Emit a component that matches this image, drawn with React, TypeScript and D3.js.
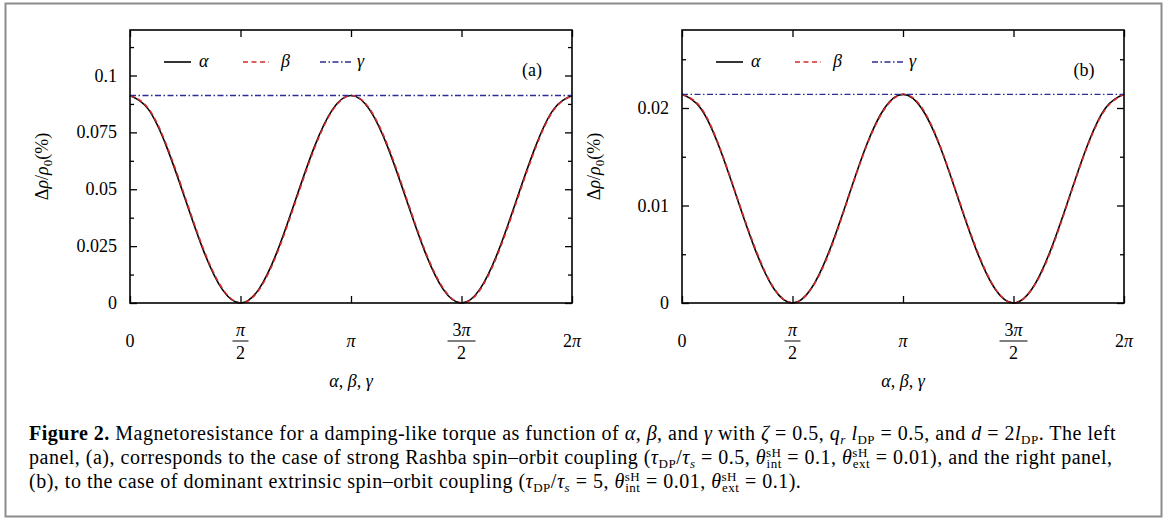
import React, { useEffect, useRef } from "react";
import * as d3 from "d3";

// angle samples in degrees (x axis runs 0..2pi)
const angles = [0, 15, 30, 45, 60, 75, 90, 105, 120, 135, 150, 165, 180, 195, 210, 225, 240, 255, 270, 285, 300, 315, 330, 345, 360];

// panel (a): strong Rashba
const alphaA = [0.0912, 0.0851, 0.0684, 0.0456, 0.0228, 0.0061, 0, 0.0061, 0.0228, 0.0456, 0.0684, 0.0851, 0.0912, 0.0851, 0.0684, 0.0456, 0.0228, 0.0061, 0, 0.0061, 0.0228, 0.0456, 0.0684, 0.0851, 0.0912];
const betaA = [0.0912, 0.0855, 0.0691, 0.0464, 0.0235, 0.0066, 0, 0.0057, 0.0221, 0.0448, 0.0677, 0.0847, 0.0912, 0.0855, 0.0691, 0.0464, 0.0235, 0.0066, 0, 0.0057, 0.0221, 0.0448, 0.0677, 0.0847, 0.0912];
const gammaA = [0.0912, 0.0912, 0.0912, 0.0912, 0.0912, 0.0912, 0.0912, 0.0912, 0.0912, 0.0912, 0.0912, 0.0912, 0.0912, 0.0912, 0.0912, 0.0912, 0.0912, 0.0912, 0.0912, 0.0912, 0.0912, 0.0912, 0.0912, 0.0912, 0.0912];

// panel (b): dominant extrinsic
const alphaB = [0.0214, 0.02, 0.0161, 0.0107, 0.00535, 0.00143, 0, 0.00143, 0.00535, 0.0107, 0.0161, 0.02, 0.0214, 0.02, 0.0161, 0.0107, 0.00535, 0.00143, 0, 0.00143, 0.00535, 0.0107, 0.0161, 0.02, 0.0214];
const betaB = [0.0214, 0.0201, 0.0162, 0.0108, 0.0055, 0.0015, 0, 0.0014, 0.0052, 0.0106, 0.016, 0.0199, 0.0214, 0.0201, 0.0162, 0.0108, 0.0055, 0.0015, 0, 0.0014, 0.0052, 0.0106, 0.016, 0.0199, 0.0214];
const gammaB = [0.0214, 0.0214, 0.0214, 0.0214, 0.0214, 0.0214, 0.0214, 0.0214, 0.0214, 0.0214, 0.0214, 0.0214, 0.0214, 0.0214, 0.0214, 0.0214, 0.0214, 0.0214, 0.0214, 0.0214, 0.0214, 0.0214, 0.0214, 0.0214, 0.0214];

const xTicks = [0, 90, 180, 270, 360];
const yTicksA = [0, 0.025, 0.05, 0.075, 0.1];
const yLabelsA = ["0", "0.025", "0.05", "0.075", "0.1"];
const yMinorA = [0.0125, 0.0375, 0.0625, 0.0875, 0.1125];
const yTicksB = [0, 0.01, 0.02];
const yLabelsB = ["0", "0.01", "0.02"];
const yMinorB = [0.005, 0.015, 0.025];

const FONT = "'Liberation Serif', 'DejaVu Serif', serif";
const RED = "#d42a2a";
const BLUE = "#2c2c94";

const plotW = 442;
const plotTop = 30;
const plotBottom = 303;

type PanelProps = {
  left: number;
  yMax: number;
  yTicks: number[];
  yLabels: string[];
  yMinor: number[];
  alpha: number[];
  beta: number[];
  gamma: number[];
  tag: string;
};

const Panel = ({ left, yMax, yTicks, yLabels, yMinor, alpha, beta, gamma, tag }: PanelProps) => {
  const ref = useRef<SVGGElement>(null);
  const x = d3.scaleLinear().domain([0, 360]).range([left, left + plotW]);
  const y = d3.scaleLinear().domain([0, yMax]).range([plotBottom, plotTop]);

  useEffect(() => {
    const g = d3.select(ref.current);
    g.selectAll("*").remove();
    const right = left + plotW;

    // inward ticks on all four sides, gnuplot style
    const put = (axis: any, tr: string) => {
      const a = g.append("g").attr("transform", tr).call(axis);
      a.select(".domain").remove();
      a.selectAll("text").remove();
      a.selectAll("line").attr("stroke", "#000").attr("stroke-width", 1.3);
    };
    put(d3.axisBottom(x).tickValues(xTicks).tickSize(-7).tickFormat(() => ""), `translate(0,${plotBottom})`);
    put(d3.axisTop(x).tickValues(xTicks).tickSize(-7).tickFormat(() => ""), `translate(0,${plotTop})`);
    put(d3.axisLeft(y).tickValues(yTicks).tickSize(-7).tickFormat(() => ""), `translate(${left},0)`);
    put(d3.axisRight(y).tickValues(yTicks).tickSize(-7).tickFormat(() => ""), `translate(${right},0)`);
    put(d3.axisLeft(y).tickValues(yMinor).tickSize(-4).tickFormat(() => ""), `translate(${left},0)`);
    put(d3.axisRight(y).tickValues(yMinor).tickSize(-4).tickFormat(() => ""), `translate(${right},0)`);
  }, [left, yMax]);

  const line = (vals: number[]) =>
    d3
      .line<number>()
      .x((_, i) => x(angles[i]))
      .y((d) => y(d))
      .curve(d3.curveNatural)(vals) || "";

  const cx = left + plotW / 2;
  const legY = 62;

  return (
    <g fontFamily={FONT}>
      <path d={line(alpha)} fill="none" stroke="#000" strokeWidth={1.6} />
      <path d={line(beta)} fill="none" stroke={RED} strokeWidth={1.6} strokeDasharray="5,3.5" />
      <path d={line(gamma)} fill="none" stroke={BLUE} strokeWidth={1.4} strokeDasharray="6,2.5,1.5,2.5" />

      <rect x={left} y={plotTop} width={plotW} height={plotBottom - plotTop} fill="none" stroke="#000" strokeWidth={1.6} />
      <g ref={ref} />

      {/* legend */}
      <line x1={left + 34} x2={left + 61} y1={legY} y2={legY} stroke="#000" strokeWidth={1.6} />
      <text x={left + 69} y={legY + 5} fontSize={18} fontStyle="italic">α</text>
      <line x1={left + 113} x2={left + 139} y1={legY} y2={legY} stroke={RED} strokeWidth={1.6} strokeDasharray="5,3.5" />
      <text x={left + 151} y={legY + 5} fontSize={18} fontStyle="italic">β</text>
      <line x1={left + 190} x2={left + 222} y1={legY} y2={legY} stroke={BLUE} strokeWidth={1.4} strokeDasharray="6,2.5,1.5,2.5" />
      <text x={left + 227} y={legY + 5} fontSize={18} fontStyle="italic">γ</text>
      <text x={left + plotW - 40} y={76} fontSize={18} textAnchor="middle">({tag})</text>

      {/* y tick labels */}
      {yTicks.map((t, i) => (
        <text key={t} x={left - 13} y={y(t) + 6} fontSize={18} textAnchor="end">{yLabels[i]}</text>
      ))}

      {/* x tick labels */}
      <text x={x(0)} y={347} fontSize={18} textAnchor="middle">0</text>
      <text x={x(180)} y={347} fontSize={18} textAnchor="middle" fontStyle="italic">π</text>
      <text x={x(360)} y={347} fontSize={18} textAnchor="middle">2<tspan fontStyle="italic">π</tspan></text>
      {[90, 270].map((t, i) => (
        <g key={t}>
          <text x={x(t)} y={336} fontSize={18} textAnchor="middle">{i === 1 ? "3" : ""}<tspan fontStyle="italic">π</tspan></text>
          <line x1={x(t) - (i ? 14 : 8)} x2={x(t) + (i ? 14 : 8)} y1={341} y2={341} stroke="#000" strokeWidth={1} />
          <text x={x(t)} y={359} fontSize={18} textAnchor="middle">2</text>
        </g>
      ))}

      {/* axis titles */}
      <text x={cx} y={387} fontSize={18} textAnchor="middle">
        <tspan fontStyle="italic">α</tspan>, <tspan fontStyle="italic">β</tspan>, <tspan fontStyle="italic">γ</tspan>
      </text>
      <text transform={`translate(${left - 82},${(plotTop + plotBottom) / 2}) rotate(-90)`} fontSize={18} textAnchor="middle">
        Δ<tspan fontStyle="italic">ρ</tspan>/<tspan fontStyle="italic">ρ</tspan>
        <tspan fontSize={13} dy={4}>0</tspan>
        <tspan dy={-4}>(%)</tspan>
      </text>
    </g>
  );
};

type Seg = { t: string; s?: "b" | "i"; pos?: "sub" | "sup" | "stack"; dx?: number };

const captionLines: Seg[][] = [
  [
    { t: "Figure 2.", s: "b" },
    { t: " Magnetoresistance for a damping-like torque as function of " },
    { t: "α", s: "i" }, { t: ", " }, { t: "β", s: "i" }, { t: ", and " }, { t: "γ", s: "i" },
    { t: " with " }, { t: "ζ", s: "i" }, { t: " = 0.5, " },
    { t: "q", s: "i" }, { t: "r", s: "i", pos: "sub" }, { t: " l", s: "i" }, { t: "DP", pos: "sub" },
    { t: " = 0.5, and " }, { t: "d", s: "i" }, { t: " = 2" }, { t: "l", s: "i" }, { t: "DP", pos: "sub" },
    { t: ". The left" },
  ],
  [
    { t: "panel, (a), corresponds to the case of strong Rashba spin–orbit coupling (" },
    { t: "τ", s: "i" }, { t: "DP", pos: "sub" }, { t: "/" }, { t: "τ", s: "i" }, { t: "s", s: "i", pos: "sub" },
    { t: " = 0.5, " },
    { t: "θ", s: "i" }, { t: "sH", pos: "sup" }, { t: "int", pos: "stack", dx: -15 }, { t: " = 0.1, " },
    { t: "θ", s: "i" }, { t: "sH", pos: "sup" }, { t: "ext", pos: "stack", dx: -15 }, { t: " = 0.01), and the right panel," },
  ],
  [
    { t: "(b), to the case of dominant extrinsic spin–orbit coupling (" },
    { t: "τ", s: "i" }, { t: "DP", pos: "sub" }, { t: "/" }, { t: "τ", s: "i" }, { t: "s", s: "i", pos: "sub" },
    { t: " = 5, " },
    { t: "θ", s: "i" }, { t: "sH", pos: "sup" }, { t: "int", pos: "stack", dx: -15 }, { t: " = 0.01, " },
    { t: "θ", s: "i" }, { t: "sH", pos: "sup" }, { t: "ext", pos: "stack", dx: -15 }, { t: " = 0.1)." },
  ],
];

const CaptionLine = ({ segs, x, y }: { segs: Seg[]; x: number; y: number }) => {
  let off = 0;
  return (
    <text x={x} y={y} fontSize={20} letterSpacing={0.5} fontFamily={FONT} style={{ whiteSpace: "pre" }}>
      {segs.map((sg, i) => {
        const target = sg.pos === "sub" || sg.pos === "stack" ? 4 : sg.pos === "sup" ? -7 : 0;
        const dy = target - off;
        off = target;
        return (
          <tspan
            key={i}
            dy={dy || undefined}
            dx={sg.dx}
            fontSize={sg.pos ? 13 : undefined}
            fontWeight={sg.s === "b" ? "bold" : undefined}
            fontStyle={sg.s === "i" ? "italic" : undefined}
          >
            {sg.t}
          </tspan>
        );
      })}
    </text>
  );
};

export default function App() {
  return (
    <svg
      width={1165}
      height={519}
      style={{ position: "absolute", left: 0, top: 0, background: "#fff" }}
    >
      <rect x={5.5} y={3.5} width={1156} height={513} fill="#fff" stroke="#8c8c8c" strokeWidth={2} />
      <Panel left={130} yMax={0.12} yTicks={yTicksA} yLabels={yLabelsA} yMinor={yMinorA} alpha={alphaA} beta={betaA} gamma={gammaA} tag="a" />
      <Panel left={682} yMax={0.028} yTicks={yTicksB} yLabels={yLabelsB} yMinor={yMinorB} alpha={alphaB} beta={betaB} gamma={gammaB} tag="b" />
      {captionLines.map((segs, i) => (
        <CaptionLine key={i} segs={segs} x={29} y={440 + i * 24} />
      ))}
    </svg>
  );
}
